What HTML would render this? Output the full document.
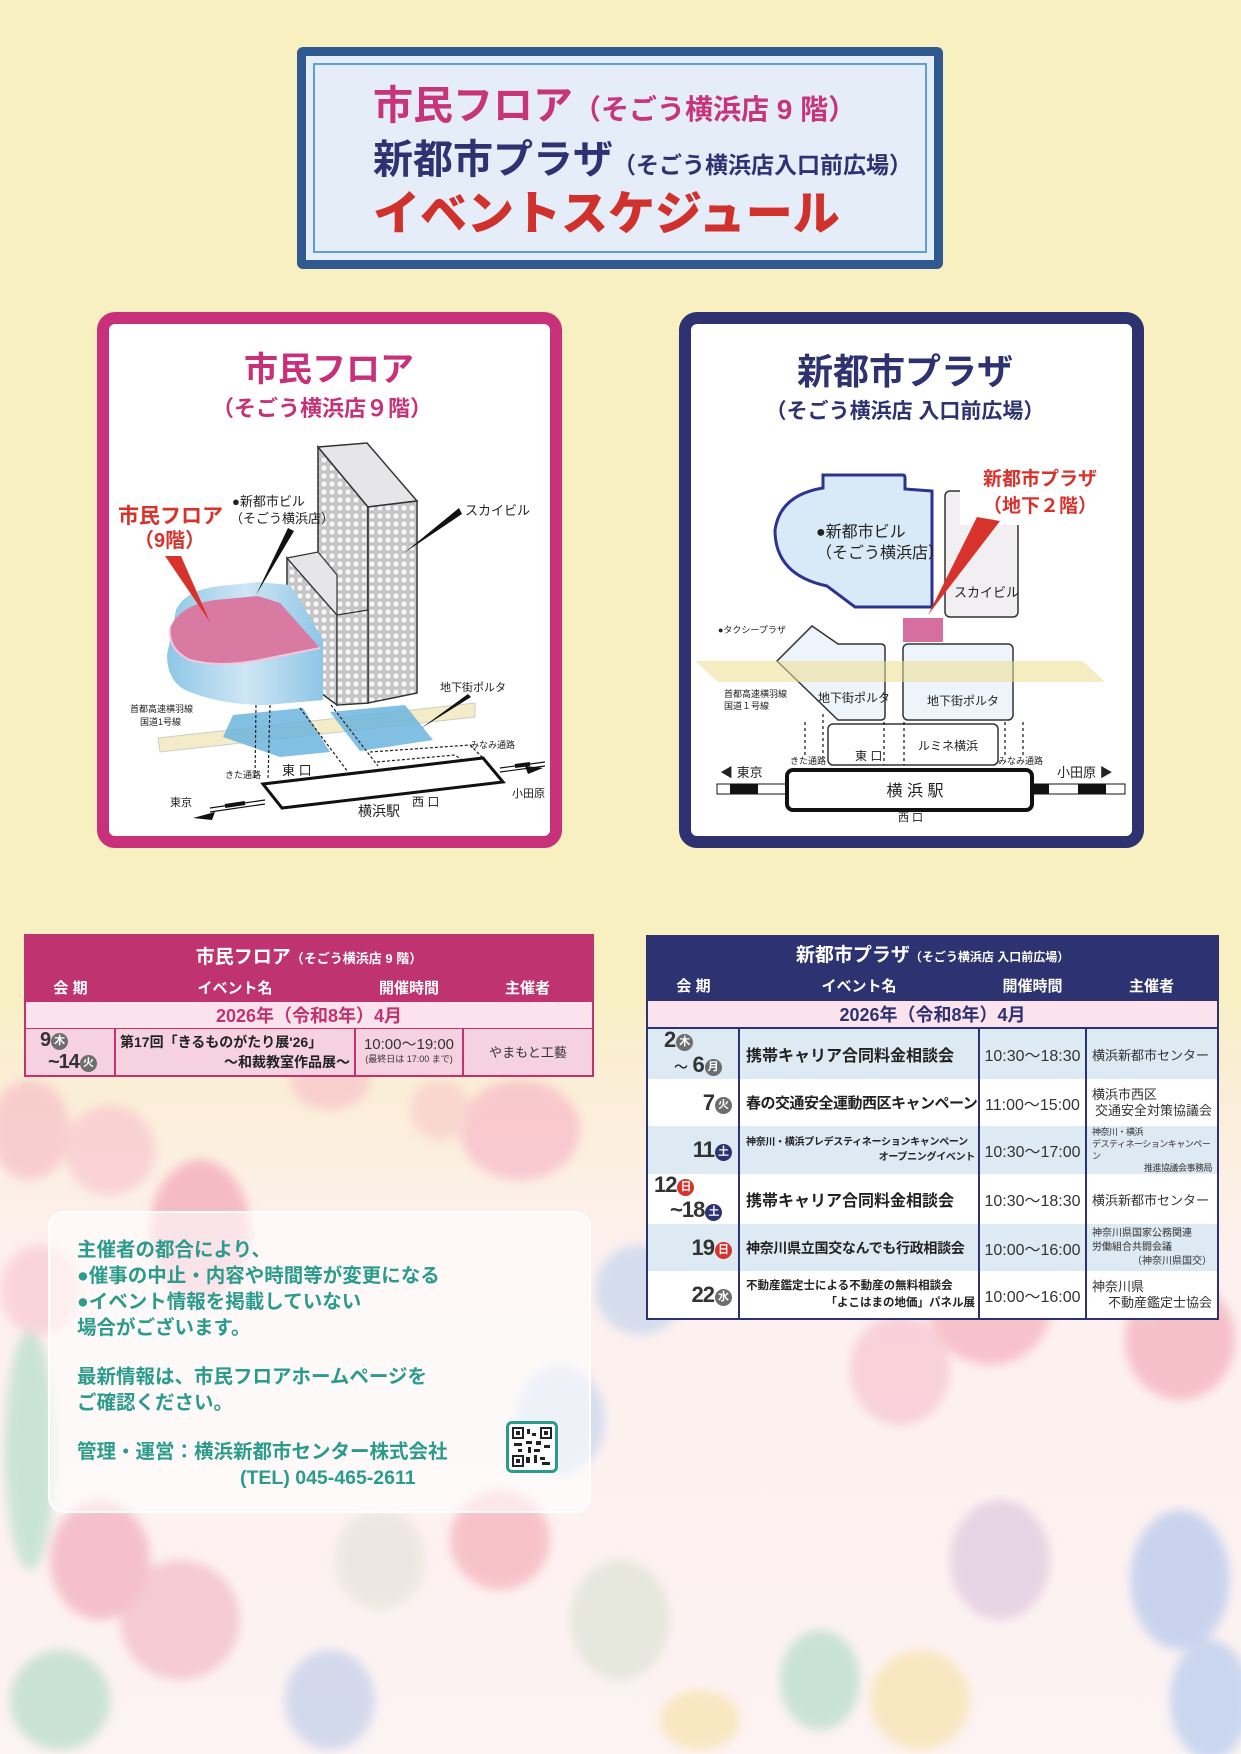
<!DOCTYPE html>
<html><head><meta charset="utf-8">
<style>
*{margin:0;padding:0;box-sizing:border-box}
body{width:1241px;height:1754px;position:relative;overflow:hidden;font-family:"Liberation Sans","Noto Sans CJK JP",sans-serif;
background:linear-gradient(180deg,#f8f0c0 0,#f8f0c0 980px,#fbeed6 1080px,#fdf0ee 1250px,#fdf3f3 1754px)}
.abs{position:absolute}
table{border-collapse:collapse;table-layout:fixed}
td{padding:0;vertical-align:middle}
.dc{display:inline-block;width:17px;height:17px;border-radius:50%;color:#fff;font-size:11px;line-height:17px;text-align:center;font-weight:bold;vertical-align:middle;margin-left:1px}
.g{background:#6d6d6d}.n{background:#2d3270}.r{background:#d8322c}
.num{font-size:22px;font-weight:bold;color:#333;letter-spacing:-1px}
.ev{font-weight:bold;color:#222;padding-left:6px!important}
.tm{font-size:16px;color:#333;text-align:center}
.org{font-size:13px;color:#333;padding:0 5px!important}
</style></head><body>

<svg class="abs" style="left:0;top:0" width="1241" height="1754">
<defs><filter id="bl"><feGaussianBlur stdDeviation="5"/></filter></defs>
<g filter="url(#bl)" opacity="0.6">
<ellipse cx="30" cy="1130" rx="40" ry="50" fill="#f6b8c4"/>
<ellipse cx="110" cy="1150" rx="45" ry="45" fill="#f7c0cc"/>
<ellipse cx="200" cy="1230" rx="50" ry="70" fill="#f29ab0"/>
<ellipse cx="40" cy="1290" rx="40" ry="45" fill="#f8c4cc"/>
<ellipse cx="330" cy="1080" rx="40" ry="30" fill="#f7bcc8"/>
<ellipse cx="520" cy="1130" rx="60" ry="50" fill="#f6b0c4"/>
<ellipse cx="440" cy="1110" rx="30" ry="30" fill="#f8c8c8"/>
<ellipse cx="640" cy="1290" rx="45" ry="45" fill="#bcd0ee"/>
<ellipse cx="560" cy="1420" rx="45" ry="55" fill="#bcd0ee"/>
<ellipse cx="990" cy="1310" rx="60" ry="55" fill="#f4a4b4"/>
<ellipse cx="900" cy="1370" rx="50" ry="55" fill="#f5bccc"/>
<ellipse cx="1180" cy="1340" rx="55" ry="60" fill="#f3a0b0"/>
<ellipse cx="1150" cy="1200" rx="20" ry="120" fill="#a8dcc8"/>
<ellipse cx="1000" cy="1560" rx="50" ry="60" fill="#d8c0dc"/>
<ellipse cx="1180" cy="1580" rx="50" ry="70" fill="#a8c0ec"/>
<ellipse cx="1210" cy="1700" rx="40" ry="60" fill="#a8c4ec"/>
<ellipse cx="920" cy="1700" rx="50" ry="50" fill="#f6e0a0"/>
<ellipse cx="820" cy="1680" rx="40" ry="50" fill="#a8d8c4"/>
<ellipse cx="620" cy="1620" rx="50" ry="60" fill="#d8e0d0"/>
<ellipse cx="500" cy="1540" rx="50" ry="50" fill="#f4a4b0"/>
<ellipse cx="380" cy="1560" rx="45" ry="50" fill="#e4e0d8"/>
<ellipse cx="180" cy="1620" rx="60" ry="60" fill="#f0b0c0"/>
<ellipse cx="100" cy="1560" rx="50" ry="60" fill="#f0a0b0"/>
<ellipse cx="30" cy="1450" rx="25" ry="120" fill="#a8dcc4"/>
<ellipse cx="60" cy="1700" rx="50" ry="50" fill="#a8d8c0"/>
<ellipse cx="330" cy="1700" rx="45" ry="50" fill="#b8c8e8"/>
<ellipse cx="700" cy="1720" rx="40" ry="30" fill="#f6e0a0"/>
</g>
</svg>

<!-- title box -->
<div class="abs" style="left:297px;top:47px;width:646px;height:222px;background:#30598f;border-radius:6px"></div>
<div class="abs" style="left:306px;top:56px;width:628px;height:204px;background:#e5eef8"></div>
<div class="abs" style="left:313px;top:63px;width:614px;height:190px;border:2px solid #5e9fcb"></div>
<div class="abs" style="left:373px;top:82px;white-space:nowrap;color:#c7347a;font-weight:bold;font-size:40px;line-height:48px">市民フロア<span style="font-size:28px">（そごう横浜店 9 階）</span></div>
<div class="abs" style="left:373px;top:136px;white-space:nowrap;color:#2e3172;font-weight:bold;font-size:40px;line-height:48px">新都市プラザ<span style="font-size:23px">（そごう横浜店入口前広場）</span></div>
<div class="abs" style="left:373px;top:186px;white-space:nowrap;color:#d0312d;font-weight:900;font-size:47px;line-height:56px">イベントスケジュール</div>

<!-- map panels -->
<div class="abs" style="left:97px;top:312px;width:465px;height:536px;background:#fff;border:12px solid #c8307a;border-radius:18px"></div>
<div class="abs" style="left:679px;top:312px;width:465px;height:536px;background:#fff;border:12px solid #2e3270;border-radius:18px"></div>

<svg class="abs" style="left:0;top:0" width="1241" height="900" font-family="Liberation Sans, Noto Sans CJK JP, sans-serif">
<defs>
<pattern id="grid" width="8" height="8" patternUnits="userSpaceOnUse"><rect width="8" height="8" fill="#d8d8da"/><rect x="1" y="1" width="6" height="6" fill="#f6f6f6" stroke="#999" stroke-width="0.7"/></pattern>
<linearGradient id="bg1" x1="0" x2="1"><stop offset="0" stop-color="#8ec6e6"/><stop offset="0.5" stop-color="#cfe6f5"/><stop offset="1" stop-color="#8ec6e6"/></linearGradient>
</defs>
<!-- LEFT MAP -->
<text x="329" y="381" text-anchor="middle" font-size="34" font-weight="bold" fill="#c8307a">市民フロア</text>
<text x="322" y="416" text-anchor="middle" font-size="22" font-weight="bold" fill="#c8307a">（そごう横浜店９階）</text>
<polygon points="158,738 475,703 475,717 160,752" fill="#f4ecc8" stroke="#ccc" stroke-width="1"/>
<polygon points="233,715 303,708 330,752 280,757 223,737" fill="#6bb5dd" opacity="0.85"/>
<polygon points="330,712 405,705 433,740 360,751" fill="#6bb5dd" opacity="0.85"/>
<!-- tall tower -->
<polygon points="318,447 368,507 368,703 337,705 337,615 318,592" fill="url(#grid)" stroke="#333" stroke-width="1.5"/>
<polygon points="318,447 367,443 417,501 368,507" fill="#e6e6e8" stroke="#333" stroke-width="1.5"/>
<polygon points="368,507 417,501 417,693 368,703" fill="url(#grid)" stroke="#333" stroke-width="1.5"/>
<!-- lower block -->
<polygon points="287,558 337,615 337,705 287,668" fill="url(#grid)" stroke="#333" stroke-width="1.5"/>
<polygon points="287,558 318,552 337,575 337,615" fill="#e6e6e8" stroke="#333" stroke-width="1.2"/>
<polygon points="337,615 368,610 368,703 337,705" fill="url(#grid)" stroke="#333" stroke-width="1.2"/>
<!-- sogo building -->
<path d="M176,610 Q185,590 220,586 L258,582 L290,585 L300,600 L323,640 L323,700 L266,705 Q220,705 185,690 Q167,680 167,655 Z" fill="url(#bg1)"/>
<path d="M170,628 Q180,605 215,600 L258,596 L280,603 L320,648 L260,660 Q220,668 190,660 Q168,650 170,628 Z" fill="#d87aa2"/>
<path d="M170,628 Q168,650 190,660 Q220,668 260,660 L320,648" fill="none" stroke="#f3c8dc" stroke-width="2"/>
<polygon points="165,556 181,556 210,622" fill="#d8322c"/>
<polygon points="288,528 294,531 256,595" fill="#111"/>
<polygon points="459,508 462,514 404,553" fill="#111"/>
<text x="118" y="523" font-size="21" font-weight="bold" fill="#d8322c">市民フロア</text>
<text x="134" y="547" font-size="20" font-weight="bold" fill="#d8322c">（9階）</text>
<text x="232" y="506" font-size="13" fill="#222">●新都市ビル</text>
<text x="230" y="523" font-size="13" fill="#222">（そごう横浜店）</text>
<text x="465" y="515" font-size="13" fill="#222">スカイビル</text>
<text x="440" y="691" font-size="11" fill="#222">地下街ポルタ</text>
<polygon points="468,694 471,697 420,729" fill="#111"/>
<text x="130" y="712" font-size="9" fill="#222">首都高速横羽線</text>
<text x="140" y="725" font-size="9" fill="#222">国道1号線</text>
<text x="470" y="748" font-size="9" fill="#222">みなみ通路</text>
<text x="225" y="778" font-size="9" fill="#222">きた通路</text>
<text x="282" y="775" font-size="13" fill="#222">東 口</text>
<text x="412" y="806" font-size="12" fill="#222">西 口</text>
<text x="358" y="816" font-size="14" fill="#222">横浜駅</text>
<text x="170" y="806" font-size="11" fill="#222">東京</text>
<text x="512" y="797" font-size="11" fill="#222">小田原</text>
<g stroke="#222" stroke-width="1.2" stroke-dasharray="3,2" fill="none">
<path d="M256,705 L255,780"/><path d="M270,705 L268,780"/>
<path d="M300,708 L348,772"/><path d="M331,705 L378,766"/>
<path d="M370,752 L470,745 L485,760"/><path d="M377,762 L455,755 L465,762"/>
</g>
<polygon points="263,784 483,758 503,782 282,808" fill="#fff" stroke="#111" stroke-width="3"/>
<path d="M210,808 L265,800 M210,812 L265,804 M500,768 L545,762 M500,772 L545,766" stroke="#111" stroke-width="1.2"/>
<path d="M225,806 L245,803" stroke="#111" stroke-width="4"/>
<path d="M515,766 L530,764" stroke="#111" stroke-width="4"/>
<polygon points="193,818 215,812 212,820" fill="#111"/>
<polygon points="543,768 525,766 528,774" fill="#111"/>

<!-- RIGHT MAP -->
<text x="905" y="384" text-anchor="middle" font-size="36" font-weight="bold" fill="#2e3270">新都市プラザ</text>
<text x="905" y="418" text-anchor="middle" font-size="21" font-weight="bold" fill="#2e3270">（そごう横浜店 入口前広場）</text>
<path d="M823,475 L903,475 Q905,475 905,478 L905,489 L932,491 L932,607 L855,607 L827,586 Q775,575 775,530 Q780,495 823,488 Z" fill="#d8eaf7" stroke="#2e3290" stroke-width="3"/>
<text x="816" y="537" font-size="16" fill="#222">●新都市ビル</text>
<text x="816" y="558" font-size="16" fill="#222">（そごう横浜店）</text>
<rect x="945" y="491" width="73" height="126" rx="5" fill="#f1eff1" stroke="#333" stroke-width="1.5"/>
<text x="954" y="597" font-size="13" fill="#222">スカイビル</text>
<rect x="960" y="465" width="150" height="60" fill="#fff"/>
<text x="983" y="485" font-size="19" font-weight="bold" fill="#d8322c">新都市プラザ</text>
<text x="983" y="512" font-size="19" font-weight="bold" fill="#d8322c">（地下２階）</text>
<polygon points="977,517 1000,521 928,615" fill="#d8322c"/>
<rect x="903" y="618" width="40" height="24" fill="#d66fa0"/>
<path d="M812,626 L838,644 L881,644 Q885,644 885,648 L885,716 Q885,720 881,720 L838,720 L777,661 Z" fill="#eef4fb" stroke="#333" stroke-width="1.5"/>
<rect x="903" y="644" width="110" height="76" rx="5" fill="#eef4fb" stroke="#333" stroke-width="1.5"/>
<polygon points="695,661 1083,661 1105,682 718,682" fill="#ecdc90" opacity="0.55"/>
<text x="818" y="702" font-size="12" fill="#222">地下街ポルタ</text>
<text x="927" y="705" font-size="12" fill="#222">地下街ポルタ</text>
<text x="724" y="697" font-size="9" fill="#222">首都高速横羽線</text>
<text x="724" y="709" font-size="9" fill="#222">国道１号線</text>
<text x="718" y="633" font-size="9" fill="#222">●タクシープラザ</text>
<rect x="828" y="724" width="170" height="41" rx="5" fill="#fff" stroke="#333" stroke-width="1.5"/>
<text x="918" y="750" font-size="12" fill="#222">ルミネ横浜</text>
<text x="855" y="760" font-size="12" fill="#222">東 口</text>
<g stroke="#222" stroke-width="1.3" stroke-dasharray="3,3"><path d="M805,722 V757"/><path d="M823,714 V757"/><path d="M884,722 V765"/><path d="M904,722 V765"/><path d="M1005,722 V757"/><path d="M1023,722 V757"/></g>
<text x="790" y="764" font-size="9" fill="#222">きた通路</text>
<text x="998" y="764" font-size="9" fill="#222">みなみ通路</text>
<rect x="717" y="784" width="70" height="10" fill="#fff" stroke="#111" stroke-width="1"/><rect x="730" y="784" width="28" height="10" fill="#111"/>
<rect x="1032" y="784" width="93" height="10" fill="#fff" stroke="#111" stroke-width="1"/><rect x="1032" y="784" width="17" height="10" fill="#111"/><rect x="1078" y="784" width="28" height="10" fill="#111"/>
<rect x="787" y="770" width="245" height="40" rx="6" fill="#fff" stroke="#111" stroke-width="4"/>
<text x="915" y="796" text-anchor="middle" font-size="16" fill="#222">横 浜 駅</text>
<text x="720" y="777" font-size="13" fill="#222">◀ 東京</text>
<text x="1057" y="777" font-size="13" fill="#222">小田原 ▶</text>
<text x="898" y="821" font-size="11" fill="#222">西 口</text>
</svg>

<!-- left table -->
<table class="abs" style="left:26px;top:936px;width:566px;background:#fff;outline:2px solid #bf3470">
<colgroup><col style="width:89px"><col style="width:240px"><col style="width:108px"><col style="width:129px"></colgroup>
<tr style="height:39px;background:#bf3470"><td colspan="4" style="text-align:center;color:#fff;font-weight:bold;font-size:19px">市民フロア<span style="font-size:13px">（そごう横浜店 9 階）</span></td></tr>
<tr style="height:26px;background:#bf3470;color:#fff;font-weight:bold;font-size:15px;text-align:center"><td>会 期</td><td>イベント名</td><td>開催時間</td><td>主催者</td></tr>
<tr style="height:27px;background:#fbe2ec"><td colspan="4" style="text-align:center;color:#bf3470;font-weight:bold;font-size:18px;border-top:1px solid #bf3470;border-bottom:1px solid #bf3470">2026年（令和8年）4月</td></tr>
<tr style="height:47px;background:#f6d2e0">
<td style="border-right:2px solid #bf3470;line-height:20px;padding-left:14px"><span class="num" style="font-size:20px">9</span><span class="dc g">木</span><br><span class="num" style="font-size:20px;margin-left:8px">~14</span><span class="dc g">火</span></td>
<td style="border-right:2px solid #bf3470;font-size:14px;font-weight:bold;color:#222;line-height:20px;padding:0 4px">第17回「きるものがたり展'26」<div style="text-align:right">～和裁教室作品展～</div></td>
<td style="border-right:2px solid #bf3470;text-align:center;color:#333;line-height:15px"><div style="font-size:15px">10:00～19:00</div><div style="font-size:9px">(最終日は 17:00 まで)</div></td>
<td style="text-align:center;font-size:13px;color:#333">やまもと工藝</td></tr>
</table>

<!-- right table -->
<table class="abs" style="left:648px;top:937px;width:569px;background:#fff;outline:2px solid #2d3270">
<colgroup><col style="width:91px"><col style="width:240px"><col style="width:107px"><col style="width:131px"></colgroup>
<tr style="height:33px;background:#2d3270"><td colspan="4" style="text-align:center;color:#fff;font-weight:bold;font-size:19px">新都市プラザ<span style="font-size:12px">（そごう横浜店 入口前広場）</span></td></tr>
<tr style="height:31px;background:#2d3270;color:#fff;font-weight:bold;font-size:15px;text-align:center"><td>会 期</td><td>イベント名</td><td>開催時間</td><td>主催者</td></tr>
<tr style="height:26px;background:#fbe2ec"><td colspan="4" style="text-align:center;color:#2d3270;font-weight:bold;font-size:18px;border-bottom:2px solid #2d3270">2026年（令和8年）4月</td></tr>
<tr style="height:47px;background:#dde9f3">
<td style="border-right:2px solid #2d3270;line-height:22px;padding-left:16px"><span class="num">2</span><span class="dc g">木</span><br><span style="margin-left:10px;font-size:14px">～</span> <span class="num">6</span><span class="dc g">月</span></td>
<td class="ev" style="border-right:2px solid #2d3270;font-size:16px">携帯キャリア合同料金相談会</td><td class="tm" style="border-right:2px solid #2d3270">10:30～18:30</td><td class="org">横浜新都市センター</td></tr>
<tr style="height:47px;background:#fff">
<td style="border-right:2px solid #2d3270;text-align:right;padding-right:6px"><span class="num">7</span><span class="dc g">火</span></td>
<td class="ev" style="border-right:2px solid #2d3270;font-size:15px;letter-spacing:-0.5px">春の交通安全運動西区キャンペーン</td><td class="tm" style="border-right:2px solid #2d3270">11:00～15:00</td><td class="org" style="line-height:16px">横浜市西区<div style="text-align:right">交通安全対策協議会</div></td></tr>
<tr style="height:47px;background:#dde9f3">
<td style="border-right:2px solid #2d3270;text-align:right;padding-right:6px"><span class="num">11</span><span class="dc n">土</span></td>
<td class="ev" style="border-right:2px solid #2d3270;font-size:10px;line-height:15px;padding-right:3px!important;letter-spacing:-0.3px">神奈川・横浜プレデスティネーションキャンペーン<div style="text-align:right">オープニングイベント</div></td><td class="tm" style="border-right:2px solid #2d3270">10:30～17:00</td><td class="org" style="font-size:9px;line-height:12px;letter-spacing:-0.5px">神奈川・横浜<br>デスティネーションキャンペーン<div style="text-align:right">推進協議会事務局</div></td></tr>
<tr style="height:47px;background:#fff">
<td style="border-right:2px solid #2d3270;line-height:22px;padding-left:6px"><span class="num">12</span><span class="dc r">日</span><br><span class="num" style="margin-left:16px">~18</span><span class="dc n">土</span></td>
<td class="ev" style="border-right:2px solid #2d3270;font-size:16px">携帯キャリア合同料金相談会</td><td class="tm" style="border-right:2px solid #2d3270">10:30～18:30</td><td class="org">横浜新都市センター</td></tr>
<tr style="height:47px;background:#dde9f3">
<td style="border-right:2px solid #2d3270;text-align:right;padding-right:6px"><span class="num">19</span><span class="dc r">日</span></td>
<td class="ev" style="border-right:2px solid #2d3270;font-size:14px;letter-spacing:-0.3px">神奈川県立国交なんでも行政相談会</td><td class="tm" style="border-right:2px solid #2d3270">10:00～16:00</td><td class="org" style="font-size:10px;line-height:14px">神奈川県国家公務関連<br>労働組合共闘会議<div style="text-align:right">（神奈川県国交）</div></td></tr>
<tr style="height:47px;background:#fff">
<td style="border-right:2px solid #2d3270;text-align:right;padding-right:6px"><span class="num">22</span><span class="dc g">水</span></td>
<td class="ev" style="border-right:2px solid #2d3270;font-size:11.5px;line-height:17px;padding-right:3px!important">不動産鑑定士による不動産の無料相談会<div style="text-align:right">「よこはまの地価」パネル展</div></td><td class="tm" style="border-right:2px solid #2d3270">10:00～16:00</td><td class="org" style="line-height:16px">神奈川県<div style="text-align:right">不動産鑑定士協会</div></td></tr>
</table>

<!-- notice box -->
<div class="abs" style="left:48px;top:1211px;width:543px;height:302px;background:rgba(255,255,255,0.6);border:2px solid rgba(255,255,255,0.9);border-radius:16px"></div>
<div class="abs" style="left:77px;top:1237px;color:#2b9b8c;font-weight:bold;font-size:19.5px;line-height:26px;white-space:nowrap">
主催者の都合により、<br>●催事の中止・内容や時間等が変更になる<br>●イベント情報を掲載していない<br>場合がございます。<br><div style="height:23px"></div>最新情報は、市民フロアホームページを<br>ご確認ください。<br><div style="height:23px"></div>管理・運営：横浜新都市センター株式会社<br><span style="margin-left:163px">(TEL) 045-465-2611</span></div>
<div class="abs" style="left:506px;top:1421px;width:52px;height:52px;background:#fff;border:3px solid #2b9b8c;border-radius:6px"></div>
<svg class="abs" style="left:512px;top:1427px" width="40" height="40">
<rect width="40" height="40" fill="#fff"/>
<g fill="#222"><rect x="0" y="0" width="12" height="12"/><rect x="28" y="0" width="12" height="12"/><rect x="0" y="28" width="12" height="12"/></g>
<g fill="#fff"><rect x="2" y="2" width="8" height="8"/><rect x="30" y="2" width="8" height="8"/><rect x="2" y="30" width="8" height="8"/></g>
<g fill="#222"><rect x="4" y="4" width="4" height="4"/><rect x="32" y="4" width="4" height="4"/><rect x="4" y="32" width="4" height="4"/>
<rect x="15" y="2" width="3" height="5"/><rect x="20" y="6" width="4" height="3"/><rect x="14" y="14" width="6" height="3"/><rect x="24" y="14" width="5" height="4"/><rect x="2" y="16" width="8" height="3"/><rect x="32" y="18" width="6" height="3"/><rect x="16" y="20" width="3" height="6"/><rect x="22" y="22" width="6" height="3"/><rect x="14" y="30" width="4" height="6"/><rect x="22" y="28" width="3" height="8"/><rect x="28" y="30" width="5" height="3"/><rect x="30" y="35" width="8" height="3"/><rect x="6" y="22" width="4" height="3"/></g>
</svg>
</body></html>
